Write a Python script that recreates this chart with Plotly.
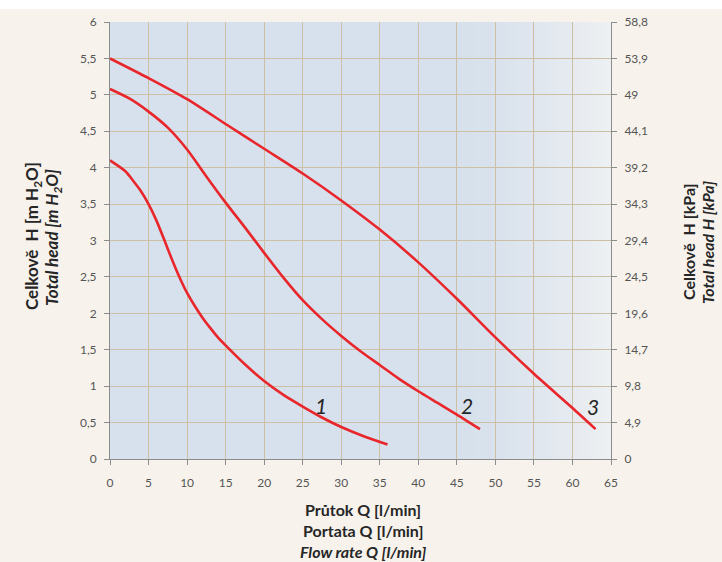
import plotly.graph_objects as go

# ---- data ----
q1 = [0, 2, 3, 4, 5, 6, 7, 8, 9, 10, 11, 12, 13, 14, 15, 17.5, 20, 22.5, 25, 27.5, 30, 33, 36]
h1 = [4.1, 3.95, 3.82, 3.68, 3.5, 3.28, 3.02, 2.75, 2.5, 2.28, 2.1, 1.94, 1.8, 1.67, 1.56, 1.3, 1.07, 0.88, 0.72, 0.57, 0.44, 0.31, 0.2]

q2 = [0, 2.5, 5, 7.5, 10, 12.5, 15, 17.5, 20, 22.5, 25, 27.5, 30, 32.5, 35, 37.5, 40, 42.5, 45, 48]
h2 = [5.08, 4.95, 4.77, 4.55, 4.25, 3.88, 3.52, 3.18, 2.83, 2.49, 2.18, 1.92, 1.69, 1.48, 1.29, 1.1, 0.93, 0.77, 0.61, 0.41]

q3 = [0, 5, 10, 15, 20, 25, 30, 35, 40, 45, 50, 55, 60, 63]
h3 = [5.5, 5.23, 4.94, 4.6, 4.26, 3.92, 3.55, 3.15, 2.7, 2.2, 1.67, 1.17, 0.7, 0.41]

curve_names = ["1", "2", "3"]
label_q = [27.4, 46.3, 62.6]
label_h = [0.74, 0.73, 0.72]

x_ticks = list(range(0, 70, 5))
kpa_vals = [0, 4.9, 9.8, 14.7, 19.6, 24.5, 29.4, 34.3, 39.2, 44.1, 49, 53.9, 58.8]
kpa_text = ["0", "4,9", "9,8", "14,7", "19,6", "24,5", "29,4", "34,3", "39,2", "44,1", "49", "53,9", "58,8"]

FONT = "Lato"
RED = "#e8262b"
GRID = "#cdbfa3"
AXIS = "#8c8c8c"
TICKC = "#555555"
TITLEC = "#262626"

fig = go.Figure()
for q, h in [(q1, h1), (q2, h2), (q3, h3)]:
    fig.add_trace(go.Scatter(x=q, y=h, mode="lines",
                             line=dict(color=RED, width=2.6, shape="spline", smoothing=0.7),
                             showlegend=False, hoverinfo="skip"))
# invisible trace to activate the secondary (kPa) axis
fig.add_trace(go.Scatter(x=[0], y=[0], yaxis="y2", mode="markers",
                         marker=dict(opacity=0), showlegend=False, hoverinfo="skip"))

for name, qx, hy in zip(curve_names, label_q, label_h):
    fig.add_annotation(x=qx, y=hy, text=name, showarrow=False,
                       font=dict(family=FONT, size=21, color=TITLEC, style="italic"),
                       xanchor="center", yanchor="middle")

# gradient on right part of plot area
n = 24
c0 = (215, 225, 236)
c1 = (238, 240, 242)
for i in range(n):
    t = (i + 0.5) / n
    col = tuple(int(round(c0[k] + (c1[k] - c0[k]) * t ** 1.5)) for k in range(3))
    fig.add_shape(type="rect", xref="paper", yref="paper",
                  x0=0.70 + 0.30 * i / n, x1=0.70 + 0.30 * (i + 1) / n + 0.002,
                  y0=0, y1=1, line=dict(width=0),
                  fillcolor="rgb(%d,%d,%d)" % col, layer="below")
# white strip at top of page
fig.add_shape(type="rect", xref="paper", yref="paper",
              x0=-0.25, x1=1.25, y0=(459 - 0) / 437, y1=(459 - 9) / 437,
              line=dict(width=0), fillcolor="white", layer="below")

def px_x(p):
    return (p - 110) / 501.0

def px_y(p):
    return (459 - p) / 437.0

ttl_l = dict(family=FONT, size=17, color=TITLEC, weight="bold")
ttl_li = dict(family=FONT, size=17, color=TITLEC, weight="bold", style="italic")
ttl = dict(family=FONT, size=16, color=TITLEC, weight="bold")
ttl_i = dict(family=FONT, size=16, color=TITLEC, weight="bold", style="italic")

fig.add_annotation(xref="paper", yref="paper", x=px_x(33), y=px_y(236), textangle=-90,
                   text="Celkově  H [m H<sub>2</sub>O]", showarrow=False, font=ttl_l,
                   xanchor="center", yanchor="middle")
fig.add_annotation(xref="paper", yref="paper", x=px_x(53), y=px_y(238), textangle=-90,
                   text="Total head [m H<sub>2</sub>O]", showarrow=False, font=ttl_li,
                   xanchor="center", yanchor="middle")
fig.add_annotation(xref="paper", yref="paper", x=px_x(689), y=px_y(242), textangle=-90,
                   text="Celkově  H [kPa]", showarrow=False, font=ttl,
                   xanchor="center", yanchor="middle")
fig.add_annotation(xref="paper", yref="paper", x=px_x(707), y=px_y(243), textangle=-90,
                   text="Total head H [kPa]", showarrow=False, font=ttl_i,
                   xanchor="center", yanchor="middle")
fig.add_annotation(xref="paper", yref="paper", x=px_x(363), y=px_y(509),
                   text="Průtok Q [l/min]", showarrow=False, font=ttl,
                   xanchor="center", yanchor="middle")
fig.add_annotation(xref="paper", yref="paper", x=px_x(363), y=px_y(530),
                   text="Portata Q [l/min]", showarrow=False, font=ttl,
                   xanchor="center", yanchor="middle")
fig.add_annotation(xref="paper", yref="paper", x=px_x(363), y=px_y(551),
                   text="Flow rate Q [l/min]", showarrow=False, font=ttl_i,
                   xanchor="center", yanchor="middle")

fig.update_layout(
    width=722, height=562,
    margin=dict(l=110, r=111, t=22, b=103),
    paper_bgcolor="#f7f3ec",
    plot_bgcolor="#d7e1ed",
    separators=", ",
    font=dict(family=FONT, size=12, color=TICKC),
    xaxis=dict(range=[0, 65], tickvals=x_ticks, showgrid=True, gridcolor=GRID, gridwidth=1,
               showline=True, linecolor=AXIS, linewidth=1, ticks="outside", ticklen=5,
               tickcolor=AXIS, zeroline=False, ticklabelstandoff=8,
               tickfont=dict(family=FONT, size=12, color=TICKC)),
    yaxis=dict(range=[0, 6], dtick=0.5, tick0=0, showgrid=True, gridcolor=GRID, gridwidth=1,
               showline=True, linecolor=AXIS, linewidth=1, ticks="outside", ticklen=5,
               tickcolor=AXIS, zeroline=False, ticklabelstandoff=5,
               tickfont=dict(family=FONT, size=12, color=TICKC)),
    yaxis2=dict(range=[0, 58.8], overlaying="y", side="right", tickvals=kpa_vals,
                ticktext=kpa_text, showgrid=False, showline=True, linecolor=AXIS,
                linewidth=1, ticks="outside", ticklen=5, tickcolor=AXIS, zeroline=False,
                ticklabelstandoff=5, tickfont=dict(family=FONT, size=12, color=TICKC)),
)

fig.write_html("out.html", config={"displayModeBar": False},
               post_script="document.body.style.margin='0';document.body.style.overflow='hidden';")
